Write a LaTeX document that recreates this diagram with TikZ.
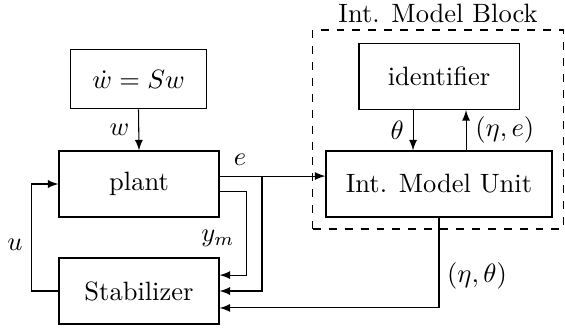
\documentclass[tikz,border=0pt]{standalone}
\usetikzlibrary{arrows}

\begin{document}
\begin{tikzpicture}[x=0.3774pt,y=-0.3774pt,>=latex]

    \tikzset{
      blockbox/.style={
        draw,
        inner sep=0pt,
        minimum width=60.4pt,
        minimum height=24.9pt,
      },
    }
    \useasboundingbox (0,0) rectangle (565,331);
	% internal model block
	\node[draw, dashed, minimum width=94.4pt, minimum height=75.1pt, inner sep=0pt,
	      label={[inner sep=2.5pt]above:Int. Model Block}] (block) at (438,129.5) {};
	\node[blockbox] (ident) at (439,76.5) {identifier};
	\node[blockbox, minimum width=85.3pt] (imu) at (439,184) {Int. Model Unit};
	% loop
	\node[blockbox, minimum width=51pt, minimum height=22.6pt] (exo) at (138.5,79) {$\dot w = Sw$};
	\node[blockbox] (plant) at (139,184) {plant};
	\node[blockbox] (stab) at (139,291) {Stabilizer};
	\coordinate (branch) at (262,176);

	\draw[->] (exo.south) -- (plant.north) node[midway, left] {$w$};
	\draw[->] ([yshift=3pt]plant.east) -- ([yshift=3pt]imu.west);
	\node (elab) at (240,160) {$e$};
	\draw[->] ([yshift=-3pt]plant.east) -- ++(27,0) |- ([yshift=6pt]stab.east);
	\node (ymlab) at (218,238) {$y_m$};
	\draw[->] (branch) |- (stab.east);
	\draw[->] (imu.south) |- ([yshift=-6.4pt]stab.east);
	\node (etalab) at (477,276) {$(\eta,\theta)$};
	\draw[->] (stab.west) -- ++(-27,0) |- (plant.west);
	\node (ulab) at (15,245) {$u$};
	\draw[->] ([xshift=-9.8pt]ident.south) -- ([xshift=-9.8pt]imu.north) node[midway, left] {$\theta$};
	\draw[->] ([xshift=10.2pt]imu.north) -- ([xshift=10.2pt]ident.south) node[midway, right] {$(\eta,e)$};

\end{tikzpicture}
\end{document}
